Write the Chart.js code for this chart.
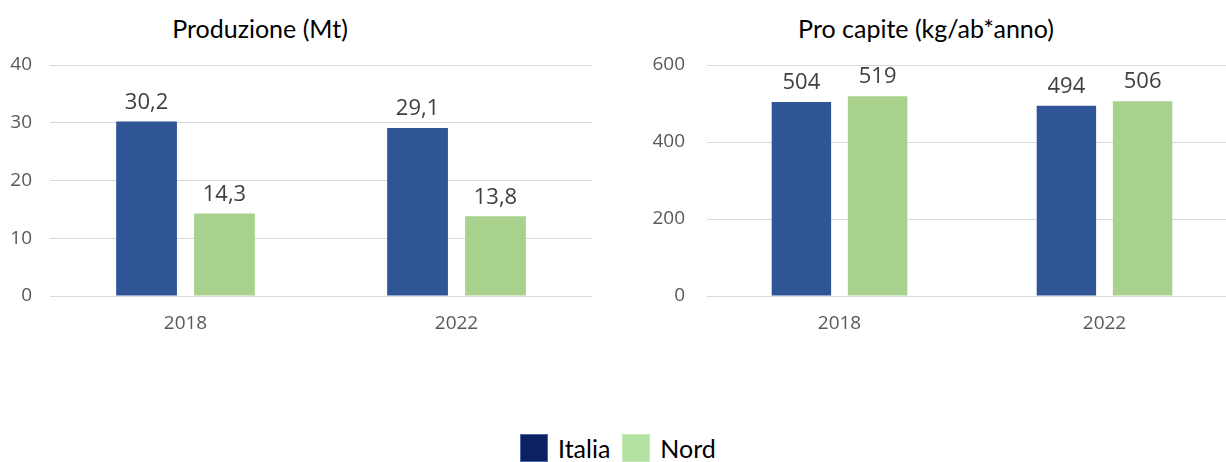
<!DOCTYPE html>
<html lang="it">
<head>
<meta charset="utf-8">
<title>Produzione e pro capite</title>
<script src="https://cdn.jsdelivr.net/npm/chart.js@4.4.1/dist/chart.umd.min.js"></script>
<style>
  html, body { margin: 0; padding: 0; background: #fff; overflow: hidden; }
  body { width: 1226px; height: 462px; position: relative; }
  .box { position: absolute; top: 0; }
  #boxProd { left: 0; width: 600px; height: 340px; }
  #boxCapite { left: 620px; width: 620px; height: 340px; }
  .titolo {
    position: absolute; top: 13px; font-family: Lato, sans-serif; font-size: 25px;
    color: #000; white-space: nowrap; transform: translateX(-50%);
  }
  .legenda {
    position: absolute; top: 433px; left: 520px; display: flex; align-items: center;
    font-family: Lato, sans-serif; font-size: 25px; color: #000;
  }
  .legenda span.sw { display: inline-block; width: 26px; height: 26px; margin-right: 10px; }
  .legenda span.txt { margin-right: 12px; }
</style>
</head>
<body>

<div class="titolo" style="left:260px">Produzione (Mt)</div>
<div class="titolo" style="left:926px">Pro capite (kg/ab*anno)</div>

<div class="box" id="boxProd"><canvas id="chartProd"></canvas></div>
<div class="box" id="boxCapite"><canvas id="chartCapite"></canvas></div>

<div class="legenda">
  <span class="sw" style="background:#0B2160;border:1px solid #4A6AA5"></span><span class="txt">Italia</span>
  <span class="sw" style="background:#B4E2A2;border:1px solid #C6EAB6"></span><span class="txt">Nord</span>
</div>

<script>
const anni = ['2018', '2022'];

// produzione in milioni di tonnellate
const prodItalia = [30.2, 29.1];
const prodNord = [14.3, 13.8];

// kg per abitante all'anno
const capiteItalia = [504, 494];
const capiteNord = [519, 506];

const BLU = '#2F5597';
const VERDE = '#A9D18E';

// etichette sopra le barre, con virgola decimale
const etichette = {
  id: 'etichette',
  afterDatasetsDraw(chart, args, opts) {
    const ctx = chart.ctx;
    ctx.save();
    ctx.font = '22px "Open Sans", sans-serif';
    ctx.fillStyle = '#404040';
    ctx.textAlign = 'center';
    ctx.textBaseline = 'middle';
    chart.data.datasets.forEach((ds, i) => {
      chart.getDatasetMeta(i).data.forEach((bar, j) => {
        let v = ds.data[j];
        let s = opts.decimali ? v.toFixed(1).replace('.', ',') : String(v);
        ctx.fillText(s, bar.x, bar.y - 19);
      });
    });
    ctx.restore();
  }
};

function grafico(id, italia, nord, max, passo, larghezzaY, padY, decimali) {
  return new Chart(document.getElementById(id), {
    type: 'bar',
    data: {
      labels: anni,
      datasets: [
        { label: 'Italia', data: italia, backgroundColor: BLU, categoryPercentage: 0.575, barPercentage: 0.78 },
        { label: 'Nord', data: nord, backgroundColor: VERDE, categoryPercentage: 0.575, barPercentage: 0.78 }
      ]
    },
    options: {
      responsive: true,
      maintainAspectRatio: false,
      animation: false,
      layout: { padding: { top: 65, right: id === 'chartProd' ? 8 : 3, left: 0, bottom: 0 } },
      plugins: {
        legend: { display: false },
        tooltip: { enabled: false },
        etichette: { decimali: decimali }
      },
      scales: {
        x: {
          grid: { display: false, drawTicks: false },
          border: { display: false },
          ticks: { color: '#595959', font: { family: 'Open Sans', size: 19 }, padding: 16 },
          afterFit(scale) { scale.height = 44; }
        },
        y: {
          min: 0, max: max,
          ticks: { stepSize: passo, color: '#595959', font: { family: 'Open Sans', size: 19 }, padding: padY },
          grid: { color: '#D9D9D9', drawTicks: false },
          border: { display: false },
          afterFit(scale) { scale.width = larghezzaY; }
        }
      }
    },
    plugins: [etichette]
  });
}

grafico('chartProd', prodItalia, prodNord, 40, 10, 50, 18, true);
grafico('chartCapite', capiteItalia, capiteNord, 600, 200, 87, 22, false);
</script>
</body>
</html>
